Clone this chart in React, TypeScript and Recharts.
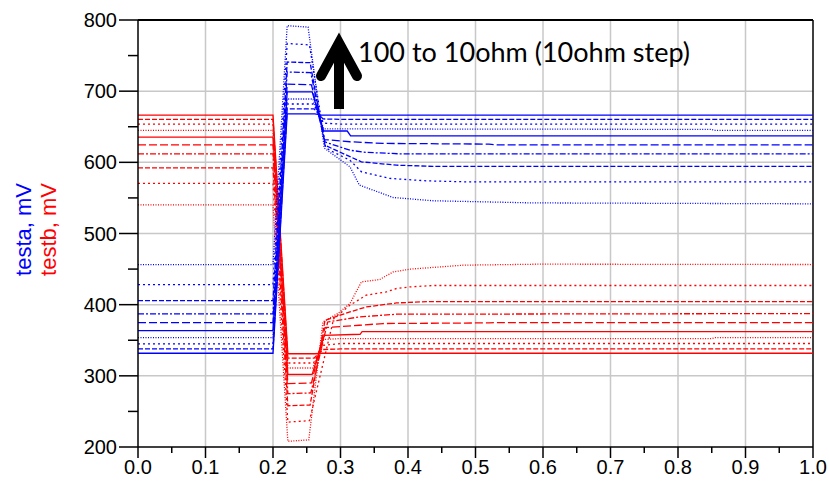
import { LineChart, Line, XAxis, YAxis, CartesianGrid, ReferenceLine } from 'recharts';

const xTicks = [0, 0.05, 0.1, 0.15, 0.2, 0.25, 0.3, 0.35, 0.4, 0.45, 0.5, 0.55, 0.6, 0.65, 0.7, 0.75, 0.8, 0.85, 0.9, 0.95, 1];
const xMajor = ['0.0', '0.1', '0.2', '0.3', '0.4', '0.5', '0.6', '0.7', '0.8', '0.9', '1.0'];
const yTicks = [200, 250, 300, 350, 400, 450, 500, 550, 600, 650, 700, 750, 800];
const xGrid = [0.1, 0.2, 0.3, 0.4, 0.5, 0.6, 0.7, 0.8, 0.9];
const yGrid = [300, 400, 500, 600, 700];

// testa (blue), termination 100 ohm down to 10 ohm, [time, mV]
const testa100 = [[0, 331.7], [0.2, 331.7], [0.221, 668], [0.262, 668], [0.272, 666.4], [1, 666.4]];
const testa90 = [[0, 337.8], [0.2, 337.8], [0.221, 675], [0.261, 675], [0.274, 661], [0.3, 660.4], [1, 660.4]];
const testa80 = [[0, 344.8], [0.2, 344.8], [0.221, 682], [0.26, 682], [0.275, 655], [0.3, 653.8], [1, 653.8]];
const testa70 = [[0, 353.8], [0.2, 353.8], [0.221, 689], [0.259, 689], [0.275, 647], [0.85, 646.3], [0.855, 644.9], [1, 644.9]];
const testa60 = [[0, 363.6], [0.2, 363.6], [0.221, 699], [0.258, 699], [0.275, 644], [0.31, 644], [0.315, 637.3], [1, 637.3]];
const testa50 = [[0, 374.9], [0.2, 374.9], [0.221, 710], [0.257, 709], [0.276, 632], [0.314, 628.9], [0.363, 626.6], [0.52, 625.6], [0.53, 624.6], [1, 624.6]];
const testa40 = [[0, 387], [0.2, 387], [0.221, 727], [0.256, 726], [0.277, 628.5], [0.314, 617], [0.338, 614], [0.387, 612], [1, 612]];
const testa30 = [[0, 405.8], [0.2, 405.8], [0.221, 741], [0.255, 740], [0.277, 624], [0.314, 608], [0.331, 600.7], [0.383, 596], [0.437, 594.3], [1, 594.3]];
const testa20 = [[0, 428.3], [0.2, 428.3], [0.221, 767], [0.254, 765], [0.278, 621], [0.284, 617], [0.314, 603], [0.331, 586.7], [0.373, 577.4], [0.427, 574], [0.486, 572.6], [1, 572.6]];
const testa10 = [[0, 456.4], [0.2, 456.4], [0.221, 792], [0.252, 790], [0.276, 620], [0.314, 593.7], [0.328, 568], [0.378, 550.6], [0.437, 546], [0.585, 543], [1, 541.7]];

// testb (red)
const testb100 = [[0, 666.4], [0.2, 666.4], [0.222, 331], [0.262, 331], [0.272, 331.7], [1, 331.7]];
const testb90 = [[0, 660.4], [0.2, 660.4], [0.222, 325], [0.261, 325], [0.274, 337], [0.3, 337.8], [1, 337.8]];
const testb80 = [[0, 653.8], [0.2, 653.8], [0.222, 318], [0.26, 318], [0.275, 343], [0.3, 345.4], [1, 345.4]];
const testb70 = [[0, 644.9], [0.2, 644.9], [0.222, 311], [0.259, 311], [0.275, 351], [0.3, 352.4], [0.85, 352.4], [0.855, 353.8], [1, 353.8]];
const testb60 = [[0, 635.5], [0.2, 635.5], [0.222, 302], [0.258, 302], [0.276, 357], [0.329, 358.4], [0.332, 362.2], [1, 362.2]];
const testb50 = [[0, 624.6], [0.2, 624.6], [0.222, 289], [0.257, 290], [0.277, 367.8], [0.328, 371.1], [0.363, 373.5], [0.52, 374.4], [0.53, 374.9], [1, 374.9]];
const testb40 = [[0, 612], [0.2, 612], [0.222, 275], [0.256, 276], [0.281, 375.7], [0.328, 382.8], [0.383, 386.6], [1, 387.5]];
const testb30 = [[0, 592.3], [0.2, 592.3], [0.222, 258], [0.255, 259], [0.277, 378], [0.314, 389.8], [0.338, 396.8], [0.383, 402.4], [0.432, 404.4], [1, 404.4]];
const testb20 = [[0, 570.4], [0.2, 570.4], [0.222, 235], [0.254, 237], [0.29, 380.5], [0.314, 399.2], [0.338, 413.3], [0.368, 418], [0.383, 422.7], [0.403, 425], [0.437, 426.9], [1, 426.9]];
const testb10 = [[0, 540.3], [0.2, 540.3], [0.222, 208], [0.253, 210], [0.274, 375.7], [0.296, 387.5], [0.314, 401.6], [0.331, 432], [0.358, 435.3], [0.378, 446], [0.403, 449.9], [0.482, 455.5], [0.595, 456.9], [1, 456.4]];

const testa = [testa100, testa90, testa80, testa70, testa60, testa50, testa40, testa30, testa20, testa10];
const testb = [testb100, testb90, testb80, testb70, testb60, testb50, testb40, testb30, testb20, testb10];
const dashes = [undefined, '5 2', '2 3', '1 1.5', undefined, '8 3', '6 2 2 2', '5 2', '2 3', '1 1.5'];

const toRows = (pts: number[][]) => pts.map(([t, v]) => ({ t, v }));
const font = 'Liberation Sans, Arial, sans-serif';

const YTick = (p: any) => {
  const { x, y, payload } = p;
  const major = payload.value % 100 === 0;
  return (
    <g>
      <line x1={x - (major ? 19 : 10)} x2={x} y1={y} y2={y} stroke="#000" strokeWidth={1.5} />
      {major && <text x={x - 21} y={y + 7} textAnchor="end" fontSize={20} fontFamily={font} fill="#000">{payload.value}</text>}
    </g>
  );
};

const XTick = (p: any) => {
  const { x, y, payload } = p;
  const i = Math.round(payload.value * 20);
  const major = i % 2 === 0;
  return (
    <g>
      <line x1={x} x2={x} y1={y} y2={y + (major ? 11 : 6)} stroke="#000" strokeWidth={1.5} />
      {major && <text x={x} y={y + 27} textAnchor="middle" fontSize={20} fontFamily={font} fill="#000">{xMajor[i / 2]}</text>}
    </g>
  );
};

export default function App() {
  return (
    <div style={{ position: 'absolute', left: 0, top: 0, width: 829, height: 492, background: '#fff' }}>
      <LineChart width={829} height={492} margin={{ top: 20, right: 16, left: 0, bottom: 0 }}>
        <CartesianGrid horizontalValues={yGrid} verticalValues={xGrid} stroke="#c8c8c8" strokeWidth={1.5} />
        <XAxis type="number" dataKey="t" domain={[0, 1]} ticks={xTicks} height={45} tickSize={0} tickMargin={0}
          tickLine={false} axisLine={{ stroke: '#000', strokeWidth: 1.5 }} tick={<XTick />} allowDataOverflow />
        <YAxis type="number" domain={[200, 800]} ticks={yTicks} width={138} tickSize={0} tickMargin={0}
          tickLine={false} axisLine={{ stroke: '#000', strokeWidth: 1.5 }} tick={<YTick />} allowDataOverflow />
        <ReferenceLine y={800} stroke="#000" strokeWidth={2} />
        <ReferenceLine x={1} stroke="#000" strokeWidth={1.5} />
        {testb.map((pts, i) => (
          <Line key={'b' + i} data={toRows(pts)} dataKey="v" type="linear" stroke="#ff0000" strokeWidth={1.3}
            strokeDasharray={dashes[i]} dot={false} isAnimationActive={false} />
        ))}
        {testa.map((pts, i) => (
          <Line key={'a' + i} data={toRows(pts)} dataKey="v" type="linear" stroke="#0000ff" strokeWidth={1.3}
            strokeDasharray={dashes[i]} dot={false} isAnimationActive={false} />
        ))}
      </LineChart>
      <svg width={829} height={492} style={{ position: 'absolute', left: 0, top: 0, pointerEvents: 'none' }}>
        <line x1={339} y1={109} x2={339} y2={50} stroke="#000" strokeWidth={10} />
        <polyline points="321,76 339,43 357,76" fill="none" stroke="#000" strokeWidth={10} strokeLinecap="round" strokeLinejoin="miter" />
        <text x={358} y={62} fontSize={26} fontFamily="Lato, sans-serif" textLength={332} lengthAdjust="spacingAndGlyphs" fill="#000">100 to 10ohm (10ohm step)</text>
        <text transform="translate(31,229.5) rotate(-90)" textAnchor="middle" fontSize={22} fontFamily={font} fill="#0000ff">testa, mV</text>
        <text transform="translate(56,229.5) rotate(-90)" textAnchor="middle" fontSize={22} fontFamily={font} fill="#ff0000">testb, mV</text>
      </svg>
    </div>
  );
}
